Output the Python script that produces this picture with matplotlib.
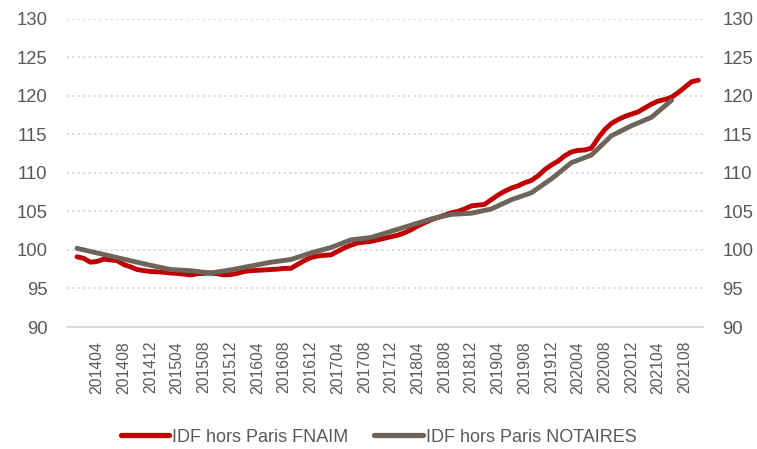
import matplotlib
matplotlib.use("Agg")
import matplotlib.pyplot as plt
import numpy as np

# Monthly categories 201401 .. 202110
months = [f"{y}{m:02d}" for y in range(2014, 2022) for m in range(1, 13)]
months = months[:months.index("202110") + 1]

tick_labels = ["201404", "201408", "201412", "201504", "201508", "201512",
               "201604", "201608", "201612", "201704", "201708", "201712",
               "201804", "201808", "201812", "201904", "201908", "201912",
               "202004", "202008", "202012", "202104", "202108"]

fnaim = [99.1, 98.9, 98.4, 98.5, 98.8, 98.7, 98.6, 98.1, 97.8, 97.45,
         97.3, 97.2, 97.15, 97.1, 97.0, 96.95, 96.85, 96.75, 96.9, 96.95,
         97.0, 96.9, 96.75, 96.8, 96.95, 97.2, 97.3, 97.35, 97.4, 97.45,
         97.5, 97.6, 97.6, 98.1, 98.6, 99.0, 99.2, 99.3, 99.35, 99.8,
         100.25, 100.6, 100.9, 101.0, 101.1, 101.3, 101.5, 101.7, 101.9, 102.2,
         102.6, 103.1, 103.5, 103.9, 104.2, 104.5, 104.8, 105.0, 105.3, 105.7,
         105.8, 105.9, 106.5, 107.1, 107.6, 108.0, 108.3, 108.7, 109.0, 109.6,
         110.4, 111.0, 111.5, 112.2, 112.7, 112.9, 112.95, 113.2, 114.5, 115.6,
         116.4, 116.9, 117.3, 117.6, 117.9, 118.4, 118.9, 119.3, 119.5, 119.8,
         120.4, 121.1, 121.8, 122.0]

notaires_months = ["201401", "201403", "201406", "201409", "201412", "201503",
                   "201506", "201509", "201512", "201603", "201606", "201609",
                   "201612", "201703", "201706", "201709", "201712", "201803",
                   "201806", "201809", "201812", "201903", "201906", "201909",
                   "201912", "202003", "202006", "202009", "202012", "202103",
                   "202106"]
notaires = [100.2, 99.8, 99.2, 98.6, 98.0, 97.45, 97.3, 97.0, 97.4, 97.9,
            98.4, 98.75, 99.6, 100.3, 101.3, 101.6, 102.4, 103.2, 104.0, 104.6,
            104.75, 105.3, 106.5, 107.4, 109.2, 111.3, 112.3, 114.8, 116.1, 117.2,
            119.4]

RED = "#C00000"
GRAY = "#6E6459"
TXT = "#595959"
GRID = "#D9D9D9"
FONT = "Liberation Sans"
FS_Y = 13.3
FS_X = 11.3
FS_L = 13.0
LW = 3.5

plt.rcParams["font.family"] = [FONT, "DejaVu Sans"]

fig = plt.figure(figsize=(7.57, 4.49), dpi=100)
L, R = 67 / 757, 703 / 757
T, B = 1 - 18.5 / 449, 1 - 327 / 449
ax = fig.add_axes([L, B, R - L, T - B])

xi = np.arange(len(months))
xn = [months.index(m) for m in notaires_months]

ax.plot(xi, fnaim, color=RED, lw=LW, solid_capstyle="round", solid_joinstyle="round",
        label="IDF hors Paris FNAIM", zorder=3)
ax.plot(xn, notaires, color=GRAY, lw=LW, solid_capstyle="round", solid_joinstyle="round",
        label="IDF hors Paris NOTAIRES", zorder=4)

ax.set_ylim(90, 130)
ax.set_xlim(-1.5, 93.7)
yt = np.arange(90, 131, 5)
ax.set_yticks(yt)
ax.set_yticklabels([str(v) for v in yt])
for v in yt[1:]:
    ax.axhline(v, color=GRID, lw=1.3, ls=(0, (1.2, 1.8)), zorder=1)
for s in ["top", "right", "left"]:
    ax.spines[s].set_visible(False)
ax.spines["bottom"].set_color(GRID)
ax.spines["bottom"].set_linewidth(1.3)

ax.set_xticks([months.index(m) for m in tick_labels])
ax.set_xticklabels(tick_labels, rotation=90, fontsize=FS_X, color=TXT)
ax.tick_params(axis="x", length=0, pad=10)
ax.tick_params(axis="y", length=0, pad=14, labelsize=FS_Y, labelcolor=TXT,
               labelright=True, labelleft=True)

leg = fig.legend(loc="center", bbox_to_anchor=(0.5, 1 - 437 / 449), ncol=2,
                 frameon=False, fontsize=FS_L, handlelength=2.7, handletextpad=0.16,
                 columnspacing=1.4, labelcolor=TXT)
for h in leg.get_lines():
    h.set_linewidth(3.8)

fig.savefig("out.png", dpi=100)
